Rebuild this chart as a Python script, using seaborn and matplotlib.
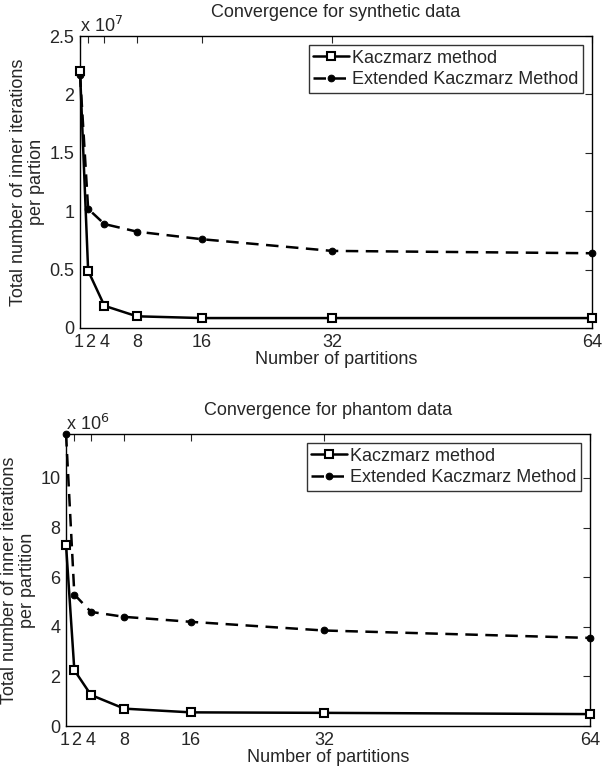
import numpy as np
import pandas as pd
import matplotlib
matplotlib.use('Agg')
import matplotlib.pyplot as plt
from matplotlib.ticker import FuncFormatter
from matplotlib.transforms import ScaledTranslation
import seaborn as sns

partitions = [1, 2, 4, 8, 16, 32, 64]

# synthetic data (raw counts)
kacz_synth = [2.20e7, 0.49e7, 0.19e7, 0.10e7, 0.085e7, 0.085e7, 0.085e7]
ek_synth = [2.17e7, 1.02e7, 0.89e7, 0.825e7, 0.76e7, 0.66e7, 0.64e7]

# phantom data (raw counts)
kacz_phantom = [7.3e6, 2.25e6, 1.25e6, 0.70e6, 0.55e6, 0.53e6, 0.48e6]
ek_phantom = [11.77e6, 5.3e6, 4.6e6, 4.4e6, 4.2e6, 3.85e6, 3.55e6]

titles = ['Convergence for synthetic data', 'Convergence for phantom data']
ylabels = ['Total number of inner iterations\nper partion',
           'Total number of inner iterations\nper partition']
yticks_synth = [0, 0.5e7, 1e7, 1.5e7, 2e7, 2.5e7]
yticks_phantom = [0, 2e6, 4e6, 6e6, 8e6, 10e6]

sns.set_style('white')
plt.rcParams['font.family'] = ['Liberation Sans', 'DejaVu Sans']
FS = 13

fig = plt.figure(figsize=(6.03, 7.73), dpi=100)
ax1 = fig.add_axes([0.1327, 0.5757, 0.8491, 0.3777])
ax2 = fig.add_axes([0.1095, 0.0608, 0.8690, 0.3777])


def draw(ax, kacz, ek, title, ylabel, yticks, ylim, scale, exp):
    df = pd.DataFrame({'p': partitions, 'k': kacz, 'e': ek})
    sns.lineplot(data=df, x='p', y='e', ax=ax, color='black', linewidth=1.8,
                 linestyle=(0, (5, 3)), marker='o', markersize=4.8,
                 markeredgecolor='black', markerfacecolor='black',
                 label='Extended Kaczmarz Method', clip_on=False, zorder=3)
    sns.lineplot(data=df, x='p', y='k', ax=ax, color='black', linewidth=1.8,
                 marker='s', markersize=5.5, markeredgewidth=1.5,
                 markeredgecolor='black', markerfacecolor='white',
                 label='Kaczmarz method', clip_on=False, zorder=4)
    ax.set_xlim(1, 64)
    ax.set_ylim(*ylim)
    ax.set_xticks(partitions)
    ax.set_xticklabels([str(p) for p in partitions])
    ax.set_yticks(yticks)
    ax.yaxis.set_major_formatter(FuncFormatter(lambda v, pos: f'{v / scale:g}'))
    ax.tick_params(direction='in', top=True, right=True, length=5, width=0.8,
                   labelsize=FS)
    ax.tick_params(axis='x', pad=4)
    ax.tick_params(axis='y', pad=4)
    # nudge the crowded "1" and "2" labels apart a little
    for lbl in ax.get_xticklabels():
        if lbl.get_text() == '1':
            lbl.set_transform(lbl.get_transform() + ScaledTranslation(-1.0 / 100, 0, fig.dpi_scale_trans))
        elif lbl.get_text() == '2':
            lbl.set_transform(lbl.get_transform() + ScaledTranslation(1.5 / 100, 0, fig.dpi_scale_trans))
    for s in ax.spines.values():
        s.set_color('black')
        s.set_linewidth(1.0)
    ax.set_title(title, fontsize=FS, pad=14)
    ax.set_xlabel('Number of partitions', fontsize=FS, labelpad=0)
    ax.set_ylabel(ylabel, fontsize=FS, labelpad=3, linespacing=1.1)
    ax.text(0.0, 1.0, f'x 10$^{exp}$', transform=ax.transAxes,
            ha='left', va='bottom', fontsize=FS)
    h, l = ax.get_legend_handles_labels()
    leg = ax.legend(h[::-1], l[::-1], loc='upper right', fontsize=FS,
                    frameon=True, fancybox=False, borderaxespad=0.5,
                    handlelength=2.0, handletextpad=0.15, borderpad=0.25,
                    labelspacing=0.25)
    leg.get_frame().set_edgecolor('black')
    leg.get_frame().set_linewidth(1.0)


draw(ax1, kacz_synth, ek_synth, titles[0], ylabels[0], yticks_synth,
     (0, 2.5e7), 1e7, 7)
draw(ax2, kacz_phantom, ek_phantom, titles[1], ylabels[1], yticks_phantom,
     (0, max(ek_phantom)), 1e6, 6)

fig.savefig('out.png', dpi=100)
